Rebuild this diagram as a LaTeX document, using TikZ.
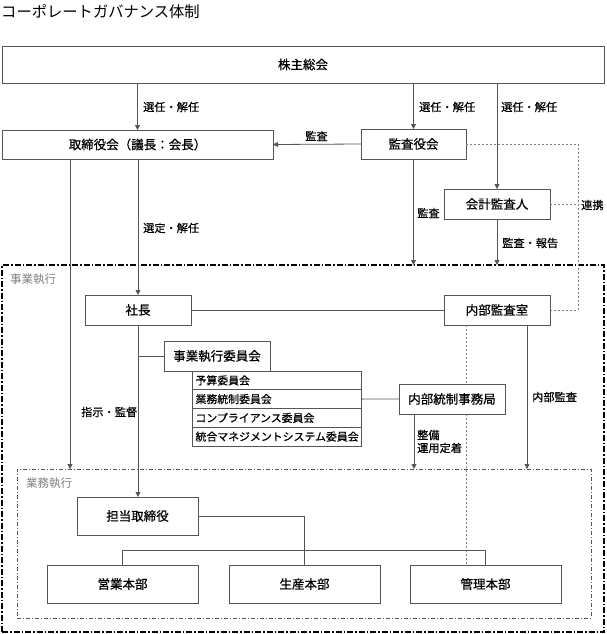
\documentclass[tikz,border=0pt]{standalone}
\usepackage{fontspec}
\setmainfont{Noto Sans CJK JP}[BoldFont={Noto Sans CJK JP}, BoldFeatures={FakeBold=0.6}]
\usepackage{xcolor}
\usepackage{tikz}
\usetikzlibrary{arrows.meta,calc}
\definecolor{frame}{HTML}{555555}

\begin{document}
\begin{tikzpicture}[x=1pt, y=-1pt,
    box/.style={draw=frame, line width=0.8pt, fill=white, inner sep=0pt, outer sep=0pt, font=\fontsize{12.5}{14}\selectfont\bfseries},
    subbox/.style={draw=frame, line width=0.8pt, fill=white, inner sep=3.5pt, outer sep=0pt, text width=162pt, minimum height=18.75pt, align=left, anchor=west, font=\fontsize{10.9}{13}\selectfont\bfseries},
    lbl/.style={anchor=west, inner sep=0pt, font=\fontsize{11.2}{13}\selectfont\bfseries},
    area/.style={anchor=west, inner sep=0pt, text=gray, font=\fontsize{11.5}{13}\selectfont},
    arr/.style={draw=frame, line width=0.8pt, -{Triangle[length=5pt, width=5pt]}},
    link/.style={draw=frame, line width=0.8pt},
    dotline/.style={draw=gray, line width=0.8pt, dash pattern=on 2pt off 2pt}]
    \useasboundingbox (0,0) rectangle (606,634);
    \node (title) [anchor=west, inner sep=0pt, font=\fontsize{15.3}{17}\selectfont] at (1,12) {コーポレートガバナンス体制};
    \node (biz) [draw, line width=1.2pt, dash pattern=on 6pt off 2pt on 1.5pt off 2pt, inner sep=0pt, outer sep=0pt, minimum width=602pt, minimum height=367pt] at (303,448.5) {};
    \node (work) [draw=frame, line width=0.8pt, dash pattern=on 4pt off 2pt on 1pt off 2pt, inner sep=0pt, outer sep=0pt, minimum width=574pt, minimum height=149pt] at (304,543.5) {};
    \node (bizlbl) [area] at (10,279) {事業執行};
    \node (worklbl) [area] at (26,483) {業務執行};
    \node (gms) [box, minimum width=602pt, minimum height=37pt] at (303,64.5) {株主総会};
    \node (board) [box, minimum width=271pt, minimum height=29pt] at (137.5,144.5) {取締役会（議長：会長）};
    \node (kansa) [box, minimum width=105pt, minimum height=30pt] at (413.5,144) {監査役会};
    \node (auditor) [box, minimum width=106pt, minimum height=30pt] at (497,204) {会計監査人};
    \node (pres) [box, minimum width=106pt, minimum height=30pt] at (138,310) {社長};
    \node (iaudit) [box, minimum width=106pt, minimum height=30pt] at (497,310) {内部監査室};
    \node (exec) [box, minimum width=106pt, minimum height=30pt] at (217,356) {事業執行委員会};
    \node (sub1) [subbox] at (192,380.4) {予算委員会};
    \node (sub2) [subbox] at (192,399.1) {業務統制委員会};
    \node (sub3) [subbox] at (192,417.9) {コンプライアンス委員会};
    \node (sub4) [subbox] at (192,436.6) {統合マネジメントシステム委員会};
    \node (ics) [box, minimum width=106pt, minimum height=30pt] at (452,399) {内部統制事務局};
    \node (dir) [box, minimum width=121pt, minimum height=38pt] at (137.5,516) {担当取締役};
    \node (sales) [box, minimum width=151pt, minimum height=38pt] at (122.5,584) {営業本部};
    \node (prod) [box, minimum width=151pt, minimum height=38pt] at (304.5,584) {生産本部};
    \node (mgmt) [box, minimum width=151pt, minimum height=38pt] at (485.5,584) {管理本部};
    \coordinate (lnk) at (578,0);
    \coordinate (bar) at (0,550);
    \coordinate (supv) at (70,0);
    \coordinate (ia) at ([xshift=-31pt]iaudit.south);
    \coordinate (iadown) at ([xshift=30pt]iaudit.south);
    \coordinate (icsdown) at ([xshift=-38pt]ics.south);
    \draw [arr] (board.north |- gms.south) -- (board.north);
    \draw [arr] (kansa.north |- gms.south) -- (kansa.north);
    \draw [arr] (auditor.north |- gms.south) -- (auditor.north);
    \draw [arr] (kansa.west) -- (board.east);
    \draw [arr] (kansa.south) -- (kansa.south |- biz.north);
    \draw [arr] (auditor.south) -- (auditor.south |- biz.north);
    \draw [dotline] (kansa.east) -- (kansa.east -| lnk) -- (iaudit.east -| lnk) -- (iaudit.east);
    \draw [dotline] (auditor.east) -- (auditor.east -| lnk);
    \draw [arr] (board.south -| pres.north) -- (pres.north);
    \draw [arr] (supv |- board.south) -- (supv |- work.north);
    \draw [arr] (pres.south) -- (dir.north -| pres.south);
    \draw [link] (pres.south |- exec.west) -- (exec.west);
    \draw [link] (pres.east) -- (iaudit.west);
    \draw [link] (sub2.east) -- (ics.west);
    \draw [dotline] (ia) -- (ia |- ics.north);
    \draw [dotline] (ia |- ics.south) -- (ia |- mgmt.north);
    \draw [arr] (iadown) -- (iadown |- work.north);
    \draw [arr] (icsdown) -- (icsdown |- work.north);
    \draw [link] (dir.east) -- (dir.east -| prod.north) -- (prod.north);
    \draw [link] (sales.north) -- (sales.north |- bar) -- (mgmt.north |- bar) -- (mgmt.north);
    \node (l1) [lbl] at (143,107) {選任・解任};
    \node (l2) [lbl] at (419,107) {選任・解任};
    \node (l3) [lbl] at (501,107) {選任・解任};
    \node (l4) [lbl] at (305,136) {監査};
    \node (l5) [lbl] at (417,213) {監査};
    \node (l6) [lbl] at (502,243) {監査・報告};
    \node (l7) [lbl] at (581,205) {連携};
    \node (l8) [lbl] at (143,228) {選定・解任};
    \node (l9) [lbl] at (81,412) {指示・監督};
    \node (l10) [lbl] at (532,397) {内部監査};
    \node (l11) [lbl, align=left] at (417,441.5) {整備\\運用定着};
\end{tikzpicture}
\end{document}
